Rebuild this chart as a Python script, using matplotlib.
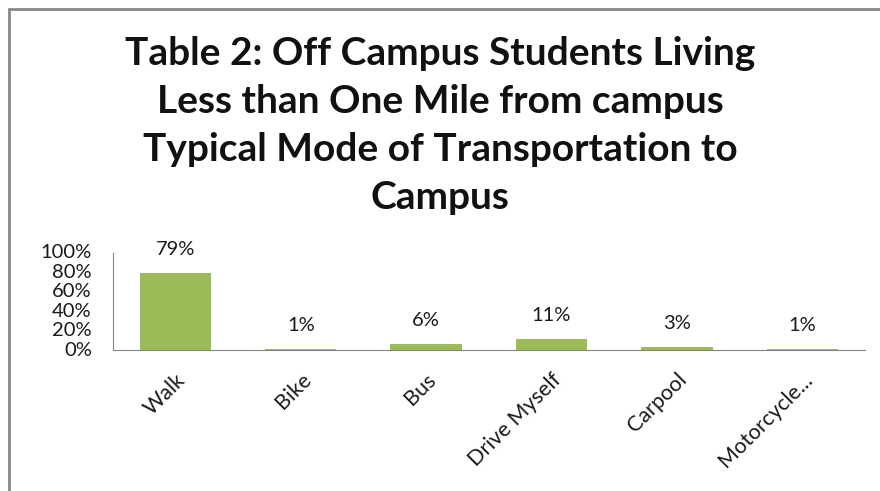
import matplotlib.pyplot as plt
from matplotlib.patches import Rectangle
from matplotlib.ticker import PercentFormatter

plt.rcParams['font.family'] = ['Lato', 'DejaVu Sans']

modes = ['Walk', 'Bike', 'Bus', 'Drive Myself', 'Carpool', 'Motorcycle...']
shares = [79, 1, 6, 11, 3, 1]
yticks = [0, 20, 40, 60, 80, 100]

title = ('Table 2: Off Campus Students Living\n'
         'Less than One Mile from campus\n'
         'Typical Mode of Transportation to\n'
         'Campus')

fig = plt.figure(figsize=(8.8, 4.91), dpi=100)
ax = fig.add_axes([0.128, 0.287, 0.855, 0.198])

# outer chart border
fig.patches.append(Rectangle((8.5 / 880, -0.1), 1.2, 1 - 8.5 / 491 + 0.1,
                             transform=fig.transFigure, fill=False,
                             edgecolor='#878787', linewidth=2))

x = range(len(modes))
ax.bar(x, shares, width=0.57, color='#9BBB59')
for i, v in zip(x, shares):
    ax.annotate(f'{v}%', (i, v), xytext=(0, 17), textcoords='offset points',
                ha='center', va='center', fontsize=14.5, color='#1a1a1a')

ax.set_xlim(-0.5, len(modes) - 0.5)
ax.set_ylim(0, 100)
ax.set_yticks(yticks)
ax.yaxis.set_major_formatter(PercentFormatter(decimals=0))
ax.set_xticks(list(x))
ax.set_xticklabels(modes, rotation=45, ha='right', rotation_mode='anchor',
                   fontsize=15.5, color='#1a1a1a')
ax.tick_params(axis='y', length=0, pad=15, labelsize=14.5, labelcolor='#1a1a1a')
ax.tick_params(axis='x', length=0, pad=14)
for lbl in ax.get_yticklabels():
    lbl.set_verticalalignment('center')

for side in ['top', 'right']:
    ax.spines[side].set_visible(False)
for side in ['left', 'bottom']:
    ax.spines[side].set_color('#868686')

fig.text(0.5, 0.926, title, ha='center', va='top', fontsize=28,
         fontweight='bold', linespacing=1.45, color='#111111')

fig.savefig('out.png', dpi=100)
